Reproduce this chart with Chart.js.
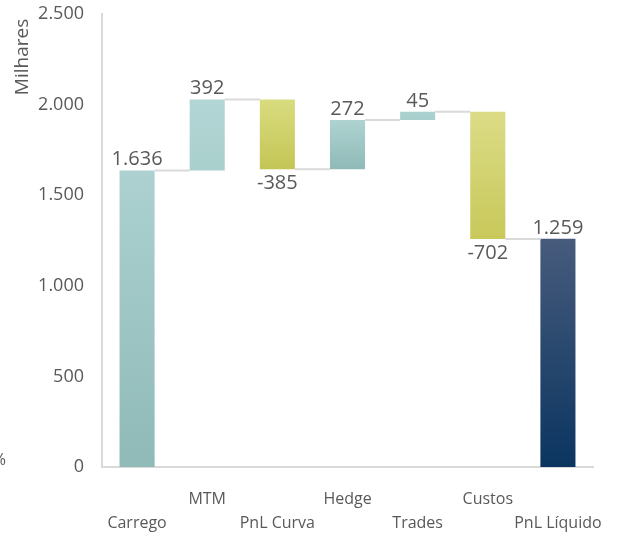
<!DOCTYPE html>
<html>
<head>
<meta charset="utf-8">
<script src="https://cdn.jsdelivr.net/npm/chart.js@4.4.1/dist/chart.umd.min.js"></script>
<style>
  html, body { margin: 0; padding: 0; background: #fff; }
  #wrap { width: 618px; height: 535px; }
</style>
</head>
<body>
<div id="wrap"><canvas id="myChart" width="618" height="535"></canvas></div>
<script>
// Datos
const categorias = ['Carrego', 'MTM', 'PnL Curva', 'Hedge', 'Trades', 'Custos', 'PnL Líquido'];
const variaciones = [1636, 392, -385, 272, 45, -702, 1259];
const esTotal = [false, false, false, false, false, false, true];
const ticksY = [0, 500, 1000, 1500, 2000, 2500];

// Colores (arriba, abajo)
const coloresTop = ['#acd1d0', '#b2d6d5', '#d9dc7e', '#aed3d1', '#abd1d0', '#dbdc86', '#475b7c'];
const coloresBottom = ['#8fbab7', '#a9cfcd', '#c4c556', '#8fbab7', '#a9cfcd', '#c8c85a', '#0b3560'];

const texto = '#595959';
const fuente = "'Open Sans', sans-serif";

// Barras flotantes
const barras = [];
let acumulado = 0;
variaciones.forEach((v, i) => {
  if (esTotal[i]) {
    barras.push([0, v]);
  } else {
    barras.push([acumulado, acumulado + v]);
    acumulado += v;
  }
});

const fmt = v => (v < 0 ? '-' : '') + Math.abs(v).toLocaleString('de-DE');

const etiquetas = {
  id: 'etiquetas',
  afterDatasetsDraw(chart) {
    const ctx = chart.ctx;
    const meta = chart.getDatasetMeta(0);
    const y = chart.scales.y;
    ctx.save();
    // Conectores
    ctx.strokeStyle = '#d9d9d9';
    ctx.lineWidth = 2;
    for (let i = 0; i < meta.data.length - 1; i++) {
      const a = meta.data[i], b = meta.data[i + 1];
      const yy = y.getPixelForValue(barras[i][1]);
      ctx.beginPath();
      ctx.moveTo(a.x + a.width / 2, yy);
      ctx.lineTo(b.x - b.width / 2, yy);
      ctx.stroke();
    }
    // Valores
    ctx.fillStyle = texto;
    ctx.font = '20px ' + fuente;
    ctx.textAlign = 'center';
    meta.data.forEach((el, i) => {
      const v = variaciones[i];
      const top = y.getPixelForValue(Math.max(barras[i][0], barras[i][1]));
      const bot = y.getPixelForValue(Math.min(barras[i][0], barras[i][1]));
      if (v >= 0) {
        ctx.textBaseline = 'bottom';
        ctx.fillText(fmt(v), el.x, top - 1);
      } else {
        ctx.textBaseline = 'top';
        ctx.fillText(fmt(v), el.x, bot + 4);
      }
    });
    // Titulo eje
    ctx.font = '19px ' + fuente;
    ctx.translate(23, 57);
    ctx.rotate(-Math.PI / 2);
    ctx.textBaseline = 'middle';
    ctx.fillText('Milhares', 0, 0);
    ctx.restore();
    ctx.save();
    ctx.fillStyle = texto;
    ctx.font = '16px ' + fuente;
    ctx.textAlign = 'right';
    ctx.textBaseline = 'middle';
    ctx.fillText('%', 6, 460);
    ctx.restore();
  }
};

new Chart(document.getElementById('myChart'), {
  type: 'bar',
  data: {
    labels: categorias,
    datasets: [{
      data: barras,
      barPercentage: 0.5,
      categoryPercentage: 1,
      borderWidth: 0,
      borderSkipped: false,
      backgroundColor: (c) => {
        const i = c.dataIndex;
        const area = c.chart.chartArea;
        if (!area || i === undefined) return coloresTop[0];
        const y = c.chart.scales.y;
        const top = y.getPixelForValue(Math.max(barras[i][0], barras[i][1]));
        const bot = y.getPixelForValue(Math.min(barras[i][0], barras[i][1]));
        const g = c.chart.ctx.createLinearGradient(0, top, 0, bot);
        g.addColorStop(0, coloresTop[i]);
        g.addColorStop(1, coloresBottom[i]);
        return g;
      }
    }]
  },
  options: {
    responsive: false,
    animation: false,
    layout: { padding: { top: 14, right: 25, left: 0, bottom: 0 } },
    plugins: { legend: { display: false }, tooltip: { enabled: false } },
    scales: {
      x: {
        grid: { display: false, drawTicks: false },
        border: { display: true, color: '#d9d9d9', width: 2 },
        ticks: {
          autoSkip: false,
          maxRotation: 0,
          padding: 20,
          color: texto,
          font: { family: fuente, size: 16, lineHeight: 1.5 },
          callback: (v, i) => i % 2 === 0 ? [' ', categorias[i]] : [categorias[i], ' ']
        },
        afterFit: s => { s.height = 68; s.paddingLeft = 0; s.paddingRight = 0; }
      },
      y: {
        min: 0,
        max: 2500,
        grid: { display: false, drawTicks: false },
        border: { display: true, color: '#d9d9d9', width: 2 },
        afterBuildTicks: s => { s.ticks = ticksY.map(v => ({ value: v })); },
        ticks: {
          padding: 18,
          color: texto,
          font: { family: fuente, size: 18 },
          callback: v => fmt(v)
        },
        afterFit: s => { s.width = 102; s.paddingTop = 0; s.paddingBottom = 0; }
      }
    }
  },
  plugins: [etiquetas]
});
</script>
</body>
</html>
